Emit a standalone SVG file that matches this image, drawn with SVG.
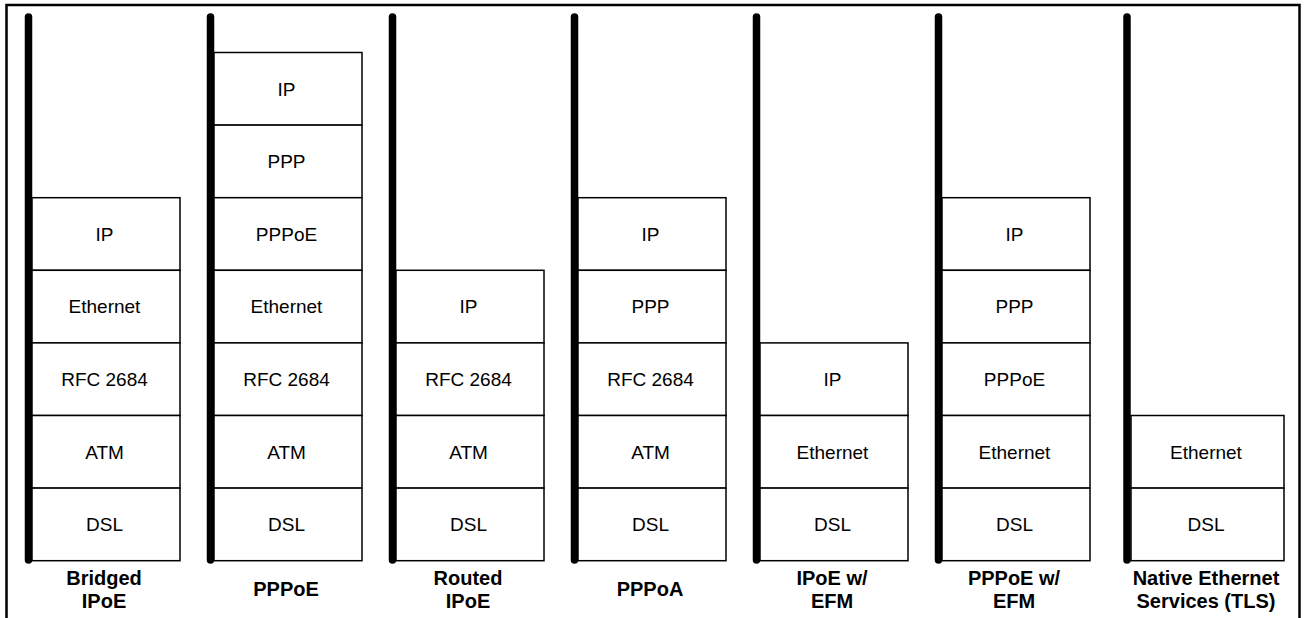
<svg xmlns="http://www.w3.org/2000/svg" width="1304" height="618" viewBox="0 0 1304 618">
<style>
.bg{fill:#fff}
.frame{fill:none;stroke:#000;stroke-width:2.5}
.bar{stroke:#000;stroke-width:7.5;stroke-linecap:round}
.cell{fill:#fff;stroke:#000;stroke-width:1.5}
.t{font-family:"Liberation Sans",Arial,sans-serif;font-size:19px;fill:#000;text-anchor:middle}
.lbl{font-family:"Liberation Sans",Arial,sans-serif;font-size:20px;font-weight:bold;fill:#000;text-anchor:middle}
</style>
<rect class="bg" x="0" y="0" width="1304" height="618"/>
<rect class="frame" x="6.5" y="5" width="1293" height="640"/>

<g id="stack-bridged-ipoe">
<line class="bar" x1="28.5" y1="17" x2="28.5" y2="560"/>
<rect class="cell" x="32" y="197.7" width="148" height="72.6"/><text class="t" x="104.5" y="240.7">IP</text>
<rect class="cell" x="32" y="270.3" width="148" height="72.6"/><text class="t" x="104.5" y="313.3">Ethernet</text>
<rect class="cell" x="32" y="342.9" width="148" height="72.6"/><text class="t" x="104.5" y="385.9">RFC 2684</text>
<rect class="cell" x="32" y="415.5" width="148" height="72.6"/><text class="t" x="104.5" y="458.5">ATM</text>
<rect class="cell" x="32" y="488.1" width="148" height="72.6"/><text class="t" x="104.5" y="531.1">DSL</text>
<text class="lbl" x="104" y="585">Bridged</text><text class="lbl" x="104" y="608">IPoE</text>
</g>

<g id="stack-pppoe">
<line class="bar" x1="210.5" y1="17" x2="210.5" y2="560"/>
<rect class="cell" x="214" y="52.5" width="148" height="72.6"/><text class="t" x="286.5" y="95.5">IP</text>
<rect class="cell" x="214" y="125.1" width="148" height="72.6"/><text class="t" x="286.5" y="168.1">PPP</text>
<rect class="cell" x="214" y="197.7" width="148" height="72.6"/><text class="t" x="286.5" y="240.7">PPPoE</text>
<rect class="cell" x="214" y="270.3" width="148" height="72.6"/><text class="t" x="286.5" y="313.3">Ethernet</text>
<rect class="cell" x="214" y="342.9" width="148" height="72.6"/><text class="t" x="286.5" y="385.9">RFC 2684</text>
<rect class="cell" x="214" y="415.5" width="148" height="72.6"/><text class="t" x="286.5" y="458.5">ATM</text>
<rect class="cell" x="214" y="488.1" width="148" height="72.6"/><text class="t" x="286.5" y="531.1">DSL</text>
<text class="lbl" x="286" y="596">PPPoE</text>
</g>

<g id="stack-routed-ipoe">
<line class="bar" x1="392.5" y1="17" x2="392.5" y2="560"/>
<rect class="cell" x="396" y="270.3" width="148" height="72.6"/><text class="t" x="468.5" y="313.3">IP</text>
<rect class="cell" x="396" y="342.9" width="148" height="72.6"/><text class="t" x="468.5" y="385.9">RFC 2684</text>
<rect class="cell" x="396" y="415.5" width="148" height="72.6"/><text class="t" x="468.5" y="458.5">ATM</text>
<rect class="cell" x="396" y="488.1" width="148" height="72.6"/><text class="t" x="468.5" y="531.1">DSL</text>
<text class="lbl" x="468" y="585">Routed</text><text class="lbl" x="468" y="608">IPoE</text>
</g>

<g id="stack-pppoa">
<line class="bar" x1="574.5" y1="17" x2="574.5" y2="560"/>
<rect class="cell" x="578" y="197.7" width="148" height="72.6"/><text class="t" x="650.5" y="240.7">IP</text>
<rect class="cell" x="578" y="270.3" width="148" height="72.6"/><text class="t" x="650.5" y="313.3">PPP</text>
<rect class="cell" x="578" y="342.9" width="148" height="72.6"/><text class="t" x="650.5" y="385.9">RFC 2684</text>
<rect class="cell" x="578" y="415.5" width="148" height="72.6"/><text class="t" x="650.5" y="458.5">ATM</text>
<rect class="cell" x="578" y="488.1" width="148" height="72.6"/><text class="t" x="650.5" y="531.1">DSL</text>
<text class="lbl" x="650" y="596">PPPoA</text>
</g>

<g id="stack-ipoe-efm">
<line class="bar" x1="756.5" y1="17" x2="756.5" y2="560"/>
<rect class="cell" x="760" y="342.9" width="148" height="72.6"/><text class="t" x="832.5" y="385.9">IP</text>
<rect class="cell" x="760" y="415.5" width="148" height="72.6"/><text class="t" x="832.5" y="458.5">Ethernet</text>
<rect class="cell" x="760" y="488.1" width="148" height="72.6"/><text class="t" x="832.5" y="531.1">DSL</text>
<text class="lbl" x="832" y="585">IPoE w/</text><text class="lbl" x="832" y="608">EFM</text>
</g>

<g id="stack-pppoe-efm">
<line class="bar" x1="938.5" y1="17" x2="938.5" y2="560"/>
<rect class="cell" x="942" y="197.7" width="148" height="72.6"/><text class="t" x="1014.5" y="240.7">IP</text>
<rect class="cell" x="942" y="270.3" width="148" height="72.6"/><text class="t" x="1014.5" y="313.3">PPP</text>
<rect class="cell" x="942" y="342.9" width="148" height="72.6"/><text class="t" x="1014.5" y="385.9">PPPoE</text>
<rect class="cell" x="942" y="415.5" width="148" height="72.6"/><text class="t" x="1014.5" y="458.5">Ethernet</text>
<rect class="cell" x="942" y="488.1" width="148" height="72.6"/><text class="t" x="1014.5" y="531.1">DSL</text>
<text class="lbl" x="1014" y="585">PPPoE w/</text><text class="lbl" x="1014" y="608">EFM</text>
</g>

<g id="stack-native-ethernet">
<line class="bar" x1="1127" y1="17" x2="1127" y2="560"/>
<rect class="cell" x="1131" y="415.5" width="153" height="72.6"/><text class="t" x="1206" y="458.5">Ethernet</text>
<rect class="cell" x="1131" y="488.1" width="153" height="72.6"/><text class="t" x="1206" y="531.1">DSL</text>
<text class="lbl" x="1206" y="585">Native Ethernet</text><text class="lbl" x="1206" y="608">Services (TLS)</text>
</g>
</svg>
